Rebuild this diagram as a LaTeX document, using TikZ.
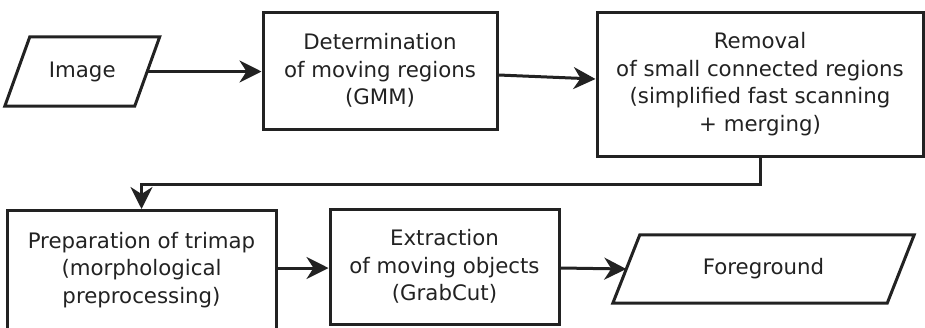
\documentclass[tikz,border=0pt]{standalone}
\usepackage{fontspec}
\setmainfont{DejaVu Sans}
\usetikzlibrary{arrows.meta,calc}
\definecolor{ink}{HTML}{222222}
\begin{document}
\begin{tikzpicture}[x=1pt,y=-1pt,
  txt/.style={inner sep=0pt, align=center, text=ink, font=\fontsize{21.3}{27.5}\selectfont},
  box/.style={txt, draw=ink, line width=3pt, rectangle},
  conn/.style={draw=ink, line width=3pt, -{Stealth[length=22pt,width=22pt,inset=7pt]}},
  para/.style={draw=ink, line width=3pt, line join=miter}]
\useasboundingbox (0,0) rectangle (925,327);
\clip (0,0) rectangle (925,327);

\node[txt, minimum width=129.5pt, minimum height=69pt] (img) at (82.25,71.5) {Image};
\draw[para] ($(img.north west)+(12.5,0)$) -- ($(img.north east)+(12.5,0)$) -- ($(img.south east)+(-12.5,0)$) -- ($(img.south west)+(-12.5,0)$) -- cycle;

\node[box, minimum width=234pt, minimum height=117pt] (b2) at (380,70.5) {Determination\\of moving regions\\(GMM)};
\node[box, minimum width=326pt, minimum height=144pt] (b3) at (760,84) {Removal\\of small connected regions\\(simplified fast scanning\\+ merging)};
\node[box, minimum width=269pt, minimum height=119pt] (b4) at (141.5,270) {Preparation of trimap\\(morphological\\preprocessing)};
\node[box, minimum width=229pt, minimum height=115pt] (b5) at (444.5,266.5) {Extraction\\of moving objects\\(GrabCut)};

\node[txt, minimum width=274pt, minimum height=68pt] (fg) at (763.5,269) {Foreground};
\draw[para] ($(fg.north west)+(13.5,0)$) -- ($(fg.north east)+(13.5,0)$) -- ($(fg.south east)+(-13.5,0)$) -- ($(fg.south west)+(-13.5,0)$) -- cycle;

\draw[conn] (img.east) -- (img.east -| b2.west);
\draw[conn] ($(b2.east)+(0,4.5)$) -- ($(b3.west)+(0,-5)$);
\draw[conn] (b3.south) -- ++(0,27) -| (b4.north);
\draw[conn] ($(b4.east)+(0,-2)$) -- ($(b5.west)+(0,1.5)$);
\draw[conn] ($(b5.east)+(0,1.5)$) -- (fg.west);
\end{tikzpicture}
\end{document}
